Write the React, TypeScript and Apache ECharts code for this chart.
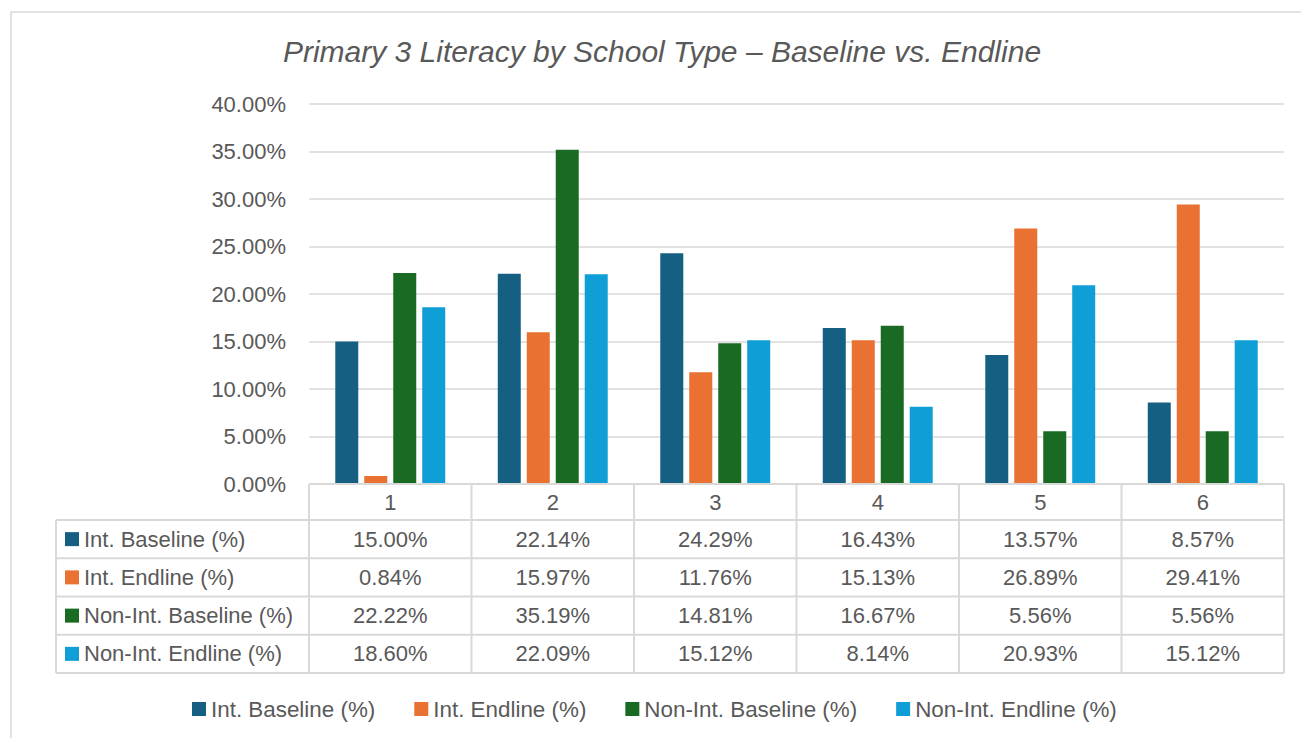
import React, { useEffect, useRef } from "react";
import * as echarts from "echarts";

const categories = ["1", "2", "3", "4", "5", "6"];
const seriesNames = [
  "Int. Baseline (%)",
  "Int. Endline (%)",
  "Non-Int. Baseline (%)",
  "Non-Int. Endline (%)",
];
const intBaseline = [15.0, 22.14, 24.29, 16.43, 13.57, 8.57];
const intEndline = [0.84, 15.97, 11.76, 15.13, 26.89, 29.41];
const nonIntBaseline = [22.22, 35.19, 14.81, 16.67, 5.56, 5.56];
const nonIntEndline = [18.6, 22.09, 15.12, 8.14, 20.93, 15.12];
const seriesColors = ["#156082", "#E97132", "#196B24", "#0F9ED5"];
const yTicks = { min: 0, max: 40, interval: 5 };
const chartTitle = "Primary 3 Literacy by School Type \u2013 Baseline vs. Endline";

const FONT = "'Liberation Sans', Arial, sans-serif";
const TEXT = "#595959";
const BORDER = "#D9D9D9";

export default function App() {
  const ref = useRef<HTMLDivElement>(null);

  useEffect(() => {
    if (!ref.current) return;
    const chart = echarts.init(ref.current, undefined, { renderer: "svg" });
    const allValues = [intBaseline, intEndline, nonIntBaseline, nonIntEndline];

    const W = 1301;
    const gridLeft = 309;
    const gridRight = 1284;
    const gridTop = 104;
    const gridBottom = 484;
    const colW = (gridRight - gridLeft) / categories.length;
    const headerBottom = 520;
    const tableBottom = 673;
    const tableLeft = 56;
    const rowH = (tableBottom - headerBottom) / seriesNames.length;

    const fmt = (v: number) => v.toFixed(2) + "%";

    const graphics: any[] = [];
    graphics.push({
      type: "rect",
      shape: { x: 11, y: 12, width: 1400, height: 800 },
      style: { fill: "none", stroke: BORDER, lineWidth: 1.5 },
      silent: true,
    });
    graphics.push({
      type: "line",
      shape: { x1: gridLeft, y1: gridBottom, x2: gridRight, y2: gridBottom },
      style: { stroke: BORDER, lineWidth: 2 },
      z: 10,
    });
    for (let r = 0; r <= seriesNames.length; r++) {
      const y = headerBottom + r * rowH;
      graphics.push({
        type: "line",
        shape: { x1: tableLeft, y1: y, x2: gridRight, y2: y },
        style: { stroke: BORDER, lineWidth: 2 },
        z: 10,
      });
    }
    graphics.push({
      type: "line",
      shape: { x1: tableLeft, y1: headerBottom, x2: tableLeft, y2: tableBottom },
      style: { stroke: BORDER, lineWidth: 2 },
      z: 10,
    });
    for (let c = 0; c <= categories.length; c++) {
      const x = gridLeft + c * colW;
      graphics.push({
        type: "line",
        shape: { x1: x, y1: gridBottom, x2: x, y2: tableBottom },
        style: { stroke: BORDER, lineWidth: 2 },
        z: 10,
      });
    }
    seriesNames.forEach((name, r) => {
      const cy = headerBottom + (r + 0.5) * rowH;
      graphics.push({
        type: "rect",
        shape: { x: 65, y: cy - 7, width: 14, height: 14 },
        style: { fill: seriesColors[r] },
        z: 11,
      });
      graphics.push({
        type: "text",
        x: 84,
        y: cy,
        style: {
          text: name,
          fill: TEXT,
          font: `22px ${FONT}`,
          textAlign: "left",
          textVerticalAlign: "middle",
        },
        z: 11,
      });
      allValues[r].forEach((v, c) => {
        graphics.push({
          type: "text",
          x: gridLeft + (c + 0.5) * colW,
          y: cy,
          style: {
            text: fmt(v),
            fill: TEXT,
            font: `22px ${FONT}`,
            textAlign: "center",
            textVerticalAlign: "middle",
          },
          z: 11,
        });
      });
    });

    chart.setOption({
      animation: false,
      backgroundColor: "#ffffff",
      title: {
        text: chartTitle,
        left: 662,
        top: 36,
        padding: 0,
        textAlign: "center",
        textStyle: {
          fontSize: 30,
          fontStyle: "italic",
          fontWeight: "normal",
          color: TEXT,
          fontFamily: FONT,
        },
      },
      legend: {
        data: seriesNames,
        left: 192,
        top: 698,
        padding: 0,
        itemWidth: 14,
        itemHeight: 14,
        itemGap: 39,
        icon: "rect",
        textStyle: { fontSize: 22.4, color: TEXT, fontFamily: FONT },
      },
      grid: {
        left: gridLeft,
        right: W - gridRight,
        top: gridTop,
        bottom: 738 - gridBottom,
        containLabel: false,
      },
      xAxis: {
        type: "category",
        data: categories,
        axisLine: { show: false },
        axisTick: { show: false },
        axisLabel: {
          fontSize: 22,
          color: TEXT,
          fontFamily: FONT,
          margin: 7,
          lineHeight: 22,
        },
      },
      yAxis: {
        type: "value",
        min: yTicks.min,
        max: yTicks.max,
        interval: yTicks.interval,
        axisLine: { show: false },
        axisTick: { show: false },
        splitLine: { lineStyle: { color: BORDER, width: 1.5 } },
        axisLabel: {
          formatter: (v: number) => v.toFixed(2) + "%",
          fontSize: 22,
          color: TEXT,
          fontFamily: FONT,
          margin: 23,
        },
      },
      series: seriesNames.map((name, i) => ({
        name,
        type: "bar",
        data: allValues[i],
        barWidth: 23,
        barGap: "26%",
        itemStyle: { color: seriesColors[i] },
      })),
      graphic: graphics,
    });

    return () => chart.dispose();
  }, []);

  return (
    <div
      ref={ref}
      style={{ position: "fixed", left: 0, top: 0, width: 1301, height: 738 }}
    />
  );
}
